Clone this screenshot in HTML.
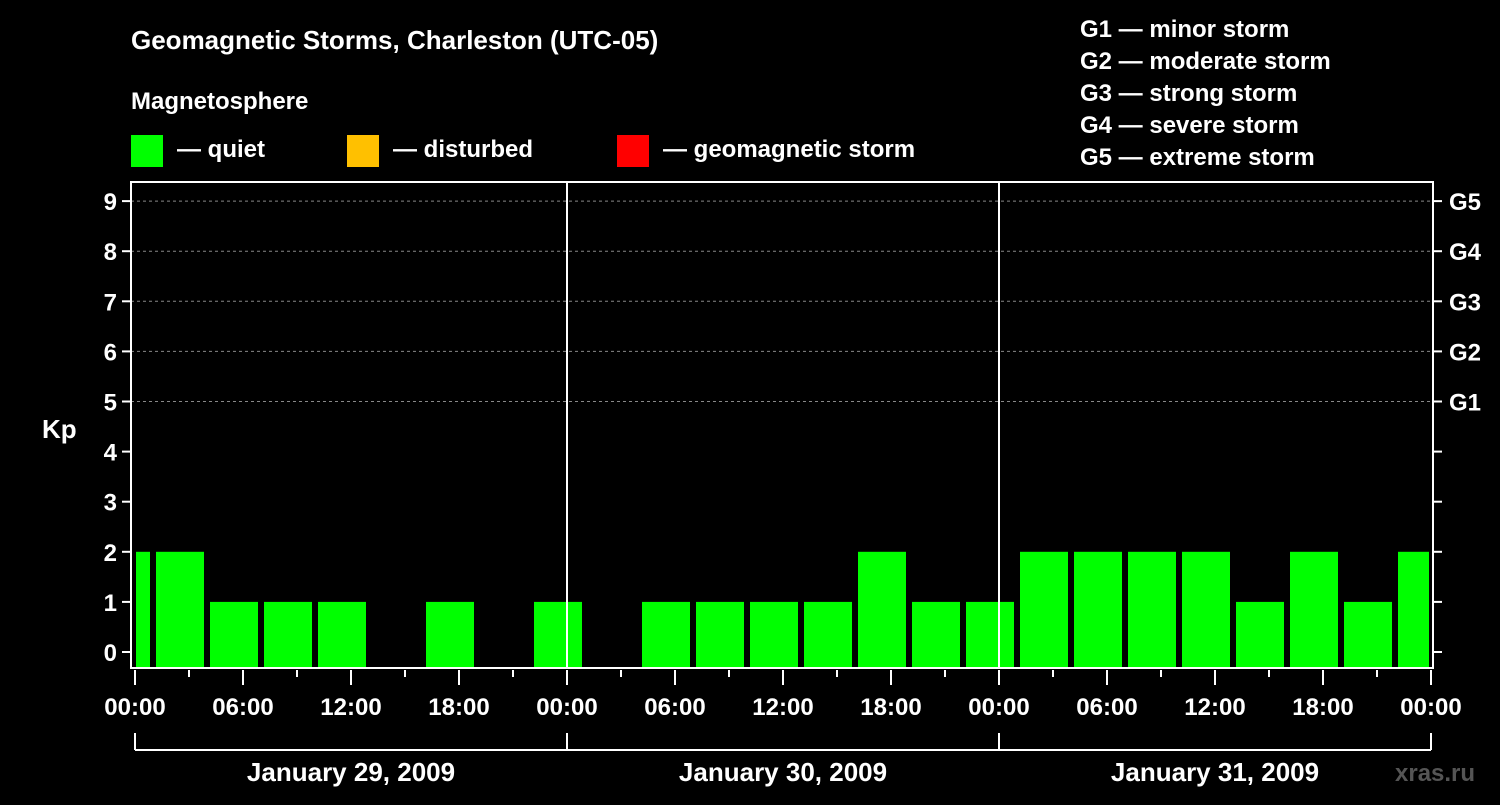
<!DOCTYPE html>
<html><head><meta charset="utf-8"><style>
body{margin:0;background:#000;width:1500px;height:800px;overflow:hidden}
svg text{font-family:"Liberation Sans",sans-serif;font-weight:bold;fill:#fff}
</style></head><body>
<svg id="c" width="1500" height="800">
<text x="131" y="49" font-size="26">Geomagnetic Storms, Charleston (UTC-05)</text>
<text x="131" y="109" font-size="24">Magnetosphere</text>
<g><rect x="131" y="135" width="32" height="32" fill="#00ff00"/><text x="177" y="157" font-size="24">— quiet</text></g>
<g><rect x="347" y="135" width="32" height="32" fill="#ffc000"/><text x="393" y="157" font-size="24">— disturbed</text></g>
<g><rect x="617" y="135" width="32" height="32" fill="#ff0000"/><text x="663" y="157" font-size="24">— geomagnetic storm</text></g>
<g font-size="24">
<text x="1080" y="37">G1 — minor storm</text><text x="1080" y="69">G2 — moderate storm</text><text x="1080" y="101">G3 — strong storm</text><text x="1080" y="133">G4 — severe storm</text><text x="1080" y="165">G5 — extreme storm</text></g>
<text x="42" y="438" font-size="26">Kp</text>
<text x="1395" y="781" font-size="24" fill="#555" style="fill:#555">xras.ru</text>
<g id="plot"></g>
</svg>
<script>
const kp=[2,2,1,1,1,0,1,0,1, 0,1,1,1,1,2,1,1, 2,2,2,2,1,2,1,2];
const startHour=-2;
const days=["January 29, 2009","January 30, 2009","January 31, 2009"];
const yTicks=[0,1,2,3,4,5,6,7,8,9];
const gLabels=["G1","G2","G3","G4","G5"];
const xLabels=["00:00","06:00","12:00","18:00"];
const NS="http://www.w3.org/2000/svg";
const g=document.getElementById('plot');
const X0=135,PXH=18,L=131,R=1433,T=182,B=668;
const x=h=>X0+h*PXH, y=v=>652-50.1*v;
function mk(t,a){const e=document.createElementNS(NS,t);for(const k in a)e.setAttribute(k,a[k]);g.appendChild(e);return e;}
const total=days.length*24;
// grid
yTicks.filter(v=>v>=5).forEach(v=>{const e=mk('line',{x1:L,x2:R,y1:y(v),y2:y(v),stroke:'#888','stroke-dasharray':'3,3','stroke-width':1});

});
// bars
kp.forEach((v,i)=>{if(v<=0)return;const h0=startHour+3*i;let a=x(h0)+3,b=x(h0+3)-3;a=Math.max(a,x(0)+1);b=Math.min(b,x(total)-2);
const c=v>=5?'#ff0000':(v>=4?'#ffc000':'#00ff00');
const e=mk('rect',{x:a,y:y(v),width:b-a,height:B-y(v),fill:c});

});
// day separators
for(let d=1;d<days.length;d++){const e=mk('line',{x1:x(d*24),x2:x(d*24),y1:T,y2:B,stroke:'#fff','stroke-width':2});

}
// frame
const fr=mk('rect',{x:L,y:T,width:R-L,height:B-T,fill:'none',stroke:'#fff','stroke-width':2});


// y ticks
yTicks.forEach(v=>{mk('line',{x1:122,x2:L,y1:y(v),y2:y(v),stroke:'#fff','stroke-width':2});mk('line',{x1:R,x2:1442,y1:y(v),y2:y(v),stroke:'#fff','stroke-width':2});
const t=mk('text',{x:117,y:y(v)+9,'font-size':24,'text-anchor':'end'});t.textContent=v;

});
gLabels.forEach((s,i)=>{const t=mk('text',{x:1449,y:y(5+i)+9,'font-size':24});t.textContent=s;

});
// x ticks
for(let h=0;h<=total;h+=3){const long=h%6===0;mk('line',{x1:x(h),x2:x(h),y1:B+2,y2:B+(long?17:9),stroke:'#fff','stroke-width':2});
if(h%6===0){const t=mk('text',{x:x(h),y:715,'font-size':24,'text-anchor':'middle'});t.textContent=xLabels[(h/6)%4];

}}
// day brackets
mk('line',{x1:x(0),x2:x(total),y1:750,y2:750,stroke:'#fff','stroke-width':2});
for(let d=0;d<=days.length;d++)mk('line',{x1:x(d*24),x2:x(d*24),y1:733,y2:750,stroke:'#fff','stroke-width':2});
days.forEach((s,d)=>{const t=mk('text',{x:x(d*24+12),y:781,'font-size':26,'text-anchor':'middle'});t.textContent=s;

});
</script>
</body></html>
